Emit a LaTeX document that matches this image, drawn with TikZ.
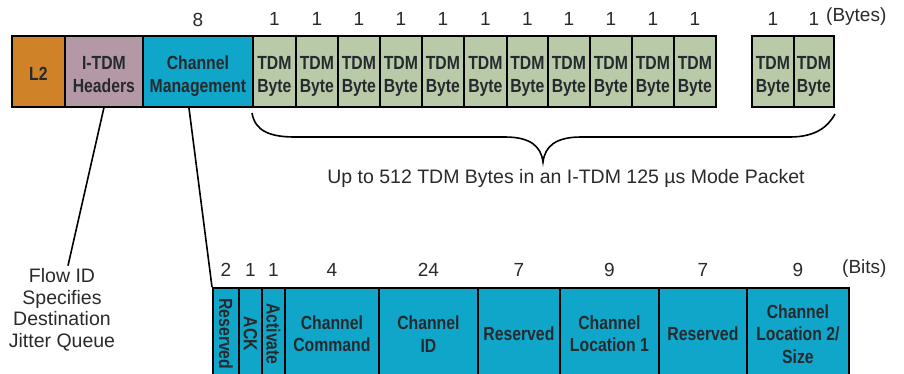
\documentclass[tikz,border=0pt]{standalone}
\usepackage{fontspec}
\setmainfont{Liberation Sans}
\newfontfamily\condb[FakeStretch=0.83]{Liberation Sans}
\usetikzlibrary{calc}
\definecolor{orangeL}{HTML}{D08228}
\definecolor{mauve}{HTML}{B498A6}
\definecolor{cyanC}{HTML}{10A6C9}
\definecolor{greenT}{HTML}{B8CAA8}
\definecolor{txtc}{HTML}{262A2E}
\definecolor{numc}{HTML}{2A2A2A}
\newcommand\lowr[1]{\raisebox{-5pt}[\height][\depth]{\begin{tabular}{@{}c@{}}#1\end{tabular}}}
\tikzset{
  fld/.style={draw=black, line width=1.8pt, inner sep=0pt, anchor=north west,
    text=txtc, align=center, font=\condb\bfseries\fontsize{19}{22.5}\selectfont},
  tdm/.style={fld, fill=greenT, minimum height=71pt},
  bot/.style={fld, fill=cyanC, minimum height=92pt},
  num/.style={inner sep=0pt, text=numc, font=\fontsize{19}{22}\selectfont},
  lbl/.style={inner sep=0pt, text=numc, align=center, font=\fontsize{19.5}{21.5}\selectfont},
  conn/.style={draw=black, line width=1.6pt}
}
\begin{document}
\begin{tikzpicture}[x=1pt,y=-1pt]
\useasboundingbox (0,0) rectangle (904,373);
% top row
\node[fld, fill=orangeL, minimum width=53pt, minimum height=71pt] (l2) at (11,35) {\lowr{L2}};
\node[fld, fill=mauve, minimum width=78pt, minimum height=71pt] (hdr) at (64,35) {\lowr{I-TDM\\Headers}};
\node[fld, fill=cyanC, minimum width=110pt, minimum height=71pt] (cm) at (142,35) {\lowr{Channel\\Management}};
\node[tdm, minimum width=43pt] (b1) at (252,35) {\lowr{TDM\\Byte}};
\node[tdm, minimum width=42pt] (b2) at (295,35) {\lowr{TDM\\Byte}};
\node[tdm, minimum width=42pt] (b3) at (337,35) {\lowr{TDM\\Byte}};
\node[tdm, minimum width=42pt] (b4) at (379,35) {\lowr{TDM\\Byte}};
\node[tdm, minimum width=42pt] (b5) at (421,35) {\lowr{TDM\\Byte}};
\node[tdm, minimum width=43pt] (b6) at (463,35) {\lowr{TDM\\Byte}};
\node[tdm, minimum width=41pt] (b7) at (506,35) {\lowr{TDM\\Byte}};
\node[tdm, minimum width=42pt] (b8) at (547,35) {\lowr{TDM\\Byte}};
\node[tdm, minimum width=42pt] (b9) at (589,35) {\lowr{TDM\\Byte}};
\node[tdm, minimum width=42pt] (b10) at (631,35) {\lowr{TDM\\Byte}};
\node[tdm, minimum width=42pt] (b11) at (673,35) {\lowr{TDM\\Byte}};
\node[tdm, minimum width=42pt] (b12) at (751,35) {\lowr{TDM\\Byte}};
\node[tdm, minimum width=40pt] (b13) at (793,35) {\lowr{TDM\\Byte}};
% byte counts
\node[num] (n8) at ($(cm.north)+(0,-15)$) {8};
\foreach \b in {b1,b2,b3,b4,b5,b6,b7,b8,b9,b10,b11,b12,b13}
  \node[num] (n\b) at ($(\b.north)+(0,-16)$) {1};
\node[num, anchor=west] (bytes) at (826,17) {(Bytes)};
% brace
\coordinate (brL) at (252,113);
\coordinate (brM) at (543,162);
\coordinate (brR) at (835,114);
\draw[conn] (brL) .. controls (255,131) and (270,137) .. (295,137) -- (505,137)
  .. controls (530,137) and (541,146) .. (brM)
  .. controls (545,146) and (556,137) .. (581,137) -- (790,137)
  .. controls (815,137) and (828,127) .. (brR);
\node[lbl] (uplbl) at (566,178) {Up to 512 TDM Bytes in an I-TDM 125 µs Mode Packet};
% flow label
\node[lbl] (flow) at (62,310) {Flow ID\\Specifies\\Destination\\Jitter Queue};
% bottom row
\node[bot, minimum width=26pt] (res1) at (212,287) {\rotatebox{-90}{Reserved}};
\node[bot, minimum width=23pt] (ack) at (238,287) {\rotatebox{-90}{ACK}};
\node[bot, minimum width=23pt] (act) at (261,287) {\rotatebox{-90}{Activate}};
\node[bot, minimum width=94pt] (cmd) at (284,287) {Channel\\Command};
\node[bot, minimum width=99pt] (cid) at (378,287) {Channel\\ID};
\node[bot, minimum width=82pt] (res2) at (477,287) {Reserved};
\node[bot, minimum width=99pt] (loc1) at (559,287) {Channel\\Location 1};
\node[bot, minimum width=88pt] (res3) at (658,287) {Reserved};
\node[bot, minimum width=102pt] (loc2) at (746,287) {Channel\\Location 2/\\Size};
% bit counts
\node[num] (m1) at ($(res1.north)+(0,-17)$) {2};
\node[num] (m2) at ($(ack.north)+(0,-17)$) {1};
\node[num] (m3) at ($(act.north)+(0,-17)$) {1};
\node[num] (m4) at ($(cmd.north)+(0,-17)$) {4};
\node[num] (m5) at ($(cid.north)+(0,-17)$) {24};
\node[num] (m6) at ($(res2.north)+(0,-17)$) {7};
\node[num] (m7) at ($(loc1.north)+(0,-17)$) {9};
\node[num] (m8) at ($(res3.north)+(0,-17)$) {7};
\node[num] (m9) at ($(loc2.north)+(0,-17)$) {9};
\node[num, anchor=west] (bits) at (842,269) {(Bits)};
% connectors
\draw[conn] (hdr.south) -- ($(flow.north)+(6,-3)$);
\draw[conn] ($(cm.south west)!0.42!(cm.south east)$) -- (res1.north west);
\end{tikzpicture}
\end{document}
